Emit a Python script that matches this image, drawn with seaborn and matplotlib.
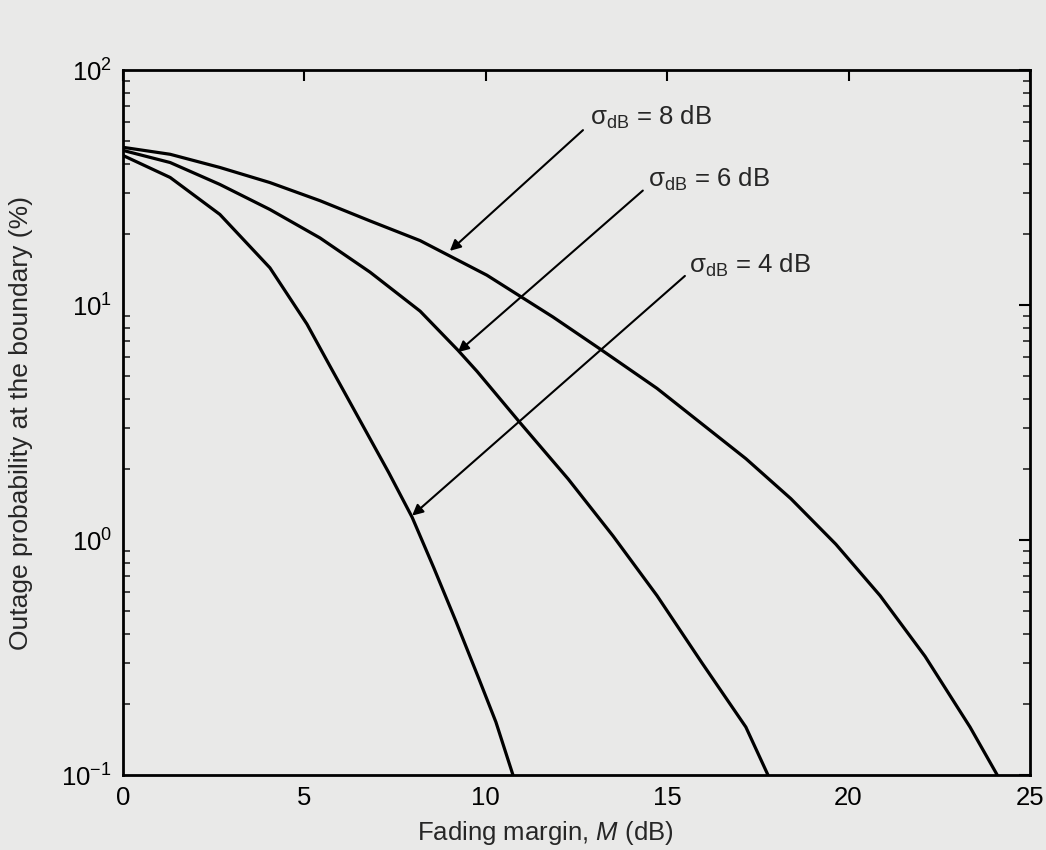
import matplotlib
matplotlib.use("Agg")
import matplotlib.pyplot as plt
import seaborn as sns
import pandas as pd

# fading margin M (dB) and outage probability (%)
m_sigma8 = [0.0, 1.3, 2.67, 4.05, 5.43, 6.81, 8.19, 10.03, 11.85, 13.12, 14.72,
            17.17, 18.41, 19.65, 20.87, 22.11, 23.35, 24.1]
p_sigma8 = [46.9, 43.8, 38.5, 33.2, 27.8, 22.8, 18.8, 13.4, 8.90, 6.55, 4.42,
            2.22, 1.50, 0.96, 0.58, 0.32, 0.16, 0.10]

m_sigma6 = [0.0, 1.3, 2.67, 4.05, 5.43, 6.81, 8.19, 9.23, 9.76, 10.92, 12.27,
            13.51, 14.72, 15.96, 17.17, 17.78]
p_sigma6 = [45.5, 40.4, 32.6, 25.5, 19.3, 13.8, 9.42, 6.43, 5.22, 3.19, 1.82,
            1.04, 0.58, 0.30, 0.16, 0.10]

m_sigma4 = [0.0, 1.3, 2.67, 4.05, 5.07, 5.71, 6.12, 7.33, 7.97, 8.57, 9.18,
            9.81, 10.28, 10.75]
p_sigma4 = [43.3, 34.9, 24.3, 14.4, 8.30, 5.48, 4.21, 1.93, 1.25, 0.76, 0.45,
            0.257, 0.168, 0.10]

labels = ["σ$_{\\rm dB}$ = 8 dB", "σ$_{\\rm dB}$ = 6 dB", "σ$_{\\rm dB}$ = 4 dB"]
# arrow tip (on curve), arrow tail, label anchor
arrow_tips = [(9.01, 17.0), (9.23, 6.3), (7.97, 1.27)]
arrow_tails = [(12.68, 55.5), (14.33, 30.7), (15.49, 13.3)]
label_pos = [(12.87, 63.0), (14.47, 34.2), (15.6, 14.8)]

df = pd.concat([
    pd.DataFrame({"M": m_sigma8, "P": p_sigma8, "sigma": "8"}),
    pd.DataFrame({"M": m_sigma6, "P": p_sigma6, "sigma": "6"}),
    pd.DataFrame({"M": m_sigma4, "P": p_sigma4, "sigma": "4"}),
])

sns.set_style("white")
plt.rcParams["font.family"] = ["Liberation Sans", "DejaVu Sans"]
plt.rcParams["mathtext.fontset"] = "custom"
plt.rcParams["mathtext.rm"] = "Liberation Sans"
plt.rcParams["mathtext.it"] = "Liberation Sans:italic"

bg = "#e9e9e8"
fig = plt.figure(figsize=(10.46, 8.5), dpi=100, facecolor=bg)
ax = fig.add_axes([0.1176, 0.0882, 0.867, 0.8294])
ax.set_facecolor(bg)

sns.lineplot(data=df, x="M", y="P", hue="sigma", palette=["black"] * 3,
             linewidth=2.3, legend=False, ax=ax, estimator=None, sort=False)

ax.set_yscale("log")
ax.set_xlim(0, 25)
ax.set_ylim(0.1, 100)
ax.set_xticks([0, 5, 10, 15, 20, 25])
ax.set_xticklabels(["0", "5", "10", "15", "20", "25"])

for s in ax.spines.values():
    s.set_linewidth(2.0)
    s.set_color("black")
ax.tick_params(axis="both", which="major", direction="in", length=8, width=1.5,
               top=True, right=True, labelsize=18.5, pad=8, colors="black")
ax.tick_params(axis="y", which="minor", direction="in", length=5, width=1.2,
               left=True, right=True)

for tip, tail, pos, lab in zip(arrow_tips, arrow_tails, label_pos, labels):
    ax.annotate("", xy=tip, xytext=tail,
                arrowprops=dict(arrowstyle="-|>", color="black", lw=1.5,
                                mutation_scale=16, shrinkA=0, shrinkB=0))
    ax.text(pos[0], pos[1], lab, fontsize=18.5, ha="left", va="center")

ax.set_xlabel("Fading margin, $M$ (dB)", fontsize=18.5)
ax.set_ylabel("Outage probability at the boundary (%)", fontsize=19)
ax.xaxis.set_label_coords(0.466, -0.062)
ax.yaxis.set_label_coords(-0.099, 0.5)

fig.savefig("out.png", dpi=100, facecolor=bg)
